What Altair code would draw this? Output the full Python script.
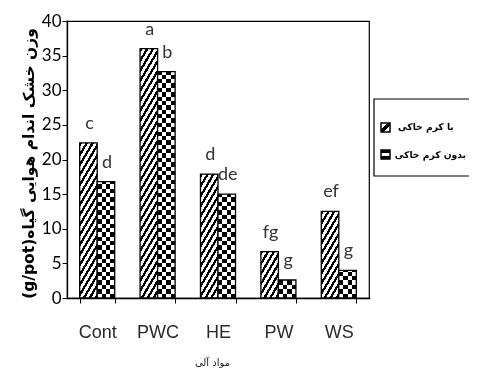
import math
import altair as alt
import pandas as pd

categories = ["Cont", "PWC", "HE", "PW", "WS"]
series = ["با کرم خاکی", "بدون کرم خاکی"]
with_worm = [22.4, 36.0, 17.9, 6.7, 12.5]
without_worm = [16.8, 32.7, 15.0, 2.6, 4.0]
letters_with = ["c", "a", "d", "fg", "ef"]
letters_without = ["d", "b", "de", "g", "g"]
y_ticks = [0, 5, 10, 15, 20, 25, 30, 35, 40]
x_title = "مواد آلی"
y_title = "(g/pot)وزن خشک اندام هوایی گیاه"

rows = []
for i, c in enumerate(categories):
    rows.append({"cat": c, "series": series[0], "value": with_worm[i], "letter": letters_with[i]})
    rows.append({"cat": c, "series": series[1], "value": without_worm[i], "letter": letters_without[i]})
df = pd.DataFrame(rows)

W, H, YMAX = 302, 277, 40
PAD_IN = 0.42
BW = W / len(categories) * (1 - PAD_IN) / 2


def diag_fill(h, w=BW, m=1.7, period=10.0, frac=0.45):
    fmax = m * w + h
    a = fmax / (m * m * w * w + h * h)
    stops = []
    k = 0
    while k * period < fmax:
        s = k * period / fmax
        e = min((k * period + frac * period) / fmax, 1.0)
        n = min((k + 1) * period / fmax, 1.0)
        stops += [{"offset": s, "color": "black"}, {"offset": e, "color": "black"},
                  {"offset": e, "color": "white"}, {"offset": n, "color": "white"}]
        k += 1
    return {"gradient": "linear", "x1": 0, "y1": 0, "x2": a * m * w, "y2": a * h, "stops": stops}


def col_fill(n=4):
    stops = []
    for k in range(n):
        col = "black" if k % 2 == 0 else "white"
        stops += [{"offset": k / n, "color": col}, {"offset": (k + 1) / n, "color": col}]
    return {"gradient": "linear", "x1": 0, "y1": 0, "x2": 1, "y2": 0, "stops": stops}


def row_fill(h, cell=BW / 4):
    stops = []
    k = 0
    while k * cell < h:
        col = "white" if k % 2 == 0 else "black"
        s = k * cell / h
        e = min((k + 1) * cell / h, 1.0)
        stops += [{"offset": s, "color": col}, {"offset": e, "color": col}]
        k += 1
    return {"gradient": "linear", "x1": 0, "y1": 1, "x2": 0, "y2": 0, "stops": stops}


xscale = alt.Scale(paddingInner=PAD_IN, paddingOuter=PAD_IN / 2)
yscale = alt.Scale(domain=[0, YMAX], nice=False)
xaxis = alt.Axis(title=x_title, tickBand="extent", tickSize=5, labelAngle=0, labelPadding=20,
                 labelFont="Liberation Sans Narrow, Arial Narrow, Liberation Sans", labelFontSize=18,
                 labelColor="#2a2a2a", domainColor="black", tickColor="black", domainWidth=1.3,
                 titleFont="DejaVu Sans", titleFontSize=10, titleFontWeight="normal", titleColor="#222",
                 titleX=145, titleY=64, titleAlign="center", titleBaseline="middle")
yaxis = alt.Axis(title=y_title, values=y_ticks, tickSize=5, labelPadding=1, grid=False,
                 labelFont="Lato", labelFontSize=17, labelColor="black", domainColor="black",
                 tickColor="black", domainWidth=1.3,
                 titleFont="DejaVu Sans", titleFontSize=15.5, titleFontWeight="bold", titleColor="black",
                 titleAngle=270, titleX=-39, titleY=142, titleAlign="center", titleBaseline="middle")


def encode(ch):
    return ch.encode(
        x=alt.X("cat:N", sort=categories, scale=xscale, axis=xaxis),
        xOffset=alt.XOffset("series:N", sort=series, scale=alt.Scale(paddingInner=0, paddingOuter=0)),
        y=alt.Y("value:Q", scale=yscale, axis=yaxis),
    )


layers = []
for i, c in enumerate(categories):
    h1 = with_worm[i] / YMAX * H
    base = alt.Chart(df).transform_filter((alt.datum.cat == c) & (alt.datum.series == series[0]))
    layers.append(encode(base.mark_bar(fill=diag_fill(h1), stroke="black", strokeWidth=1.3)))
    h2 = without_worm[i] / YMAX * H
    base2 = alt.Chart(df).transform_filter((alt.datum.cat == c) & (alt.datum.series == series[1]))
    layers.append(encode(base2.mark_bar(fill=col_fill())))
    layers.append(encode(base2.mark_bar(fill=row_fill(h2), blend="difference")))
    layers.append(encode(base2.mark_bar(fill="transparent", stroke="black", strokeWidth=1.3)))

text = encode(alt.Chart(df).mark_text(font="Lato", fontSize=18, dy=-14, baseline="alphabetic",
                                      align="center", dx=1, color="#333")).encode(text="letter:N")
layers.append(text)

# legend (drawn by hand so the symbols can carry the hatch patterns)
leg_df = pd.DataFrame({"t": series})
box = alt.Chart(leg_df.head(1)).mark_rect(fill="white", stroke="black", strokeWidth=1.2).encode(
    x=alt.value(307), x2=alt.value(420), y=alt.value(78), y2=alt.value(155))
sym1 = alt.Chart(leg_df.head(1)).mark_rect(
    fill={"gradient": "linear", "x1": 0, "y1": 0, "x2": 1, "y2": 1,
          "stops": [{"offset": 0, "color": "white"}, {"offset": 0.38, "color": "white"},
                    {"offset": 0.38, "color": "black"}, {"offset": 0.62, "color": "black"},
                    {"offset": 0.62, "color": "white"}, {"offset": 1, "color": "white"}]},
    stroke="black", strokeWidth=1.5).encode(
    x=alt.value(314), x2=alt.value(323), y=alt.value(102), y2=alt.value(111))
sym2 = alt.Chart(leg_df.head(1)).mark_rect(
    fill={"gradient": "linear", "x1": 0, "y1": 0, "x2": 0, "y2": 1,
          "stops": [{"offset": 0, "color": "black"}, {"offset": 0.3, "color": "black"},
                    {"offset": 0.3, "color": "white"}, {"offset": 0.7, "color": "white"},
                    {"offset": 0.7, "color": "black"}, {"offset": 1, "color": "black"}]},
    stroke="black", strokeWidth=1.5).encode(
    x=alt.value(314), x2=alt.value(323), y=alt.value(129), y2=alt.value(138))
t1 = alt.Chart(leg_df.iloc[[0]]).mark_text(font="DejaVu Sans", fontSize=9.2, fontWeight="bold",
                                           align="left", baseline="middle", color="black").encode(
    text="t:N", x=alt.value(331), y=alt.value(106))
t2 = alt.Chart(leg_df.iloc[[1]]).mark_text(font="DejaVu Sans", fontSize=9.2, fontWeight="bold",
                                           align="right", baseline="middle", color="black").encode(
    text="t:N", x=alt.value(399), y=alt.value(134))
layers += [box, sym1, sym2, t1, t2]

chart = alt.layer(*layers).properties(
    width=W, height=H,
    autosize=alt.AutoSizeParams(type="none"),
    padding={"left": 59, "top": 13, "right": 100, "bottom": 73},
    background="white",
).configure_view(stroke="black", strokeWidth=1.2).configure_axis(domainCap="square")

chart.save("out.html", embed_options={"renderer": "svg", "actions": False})
